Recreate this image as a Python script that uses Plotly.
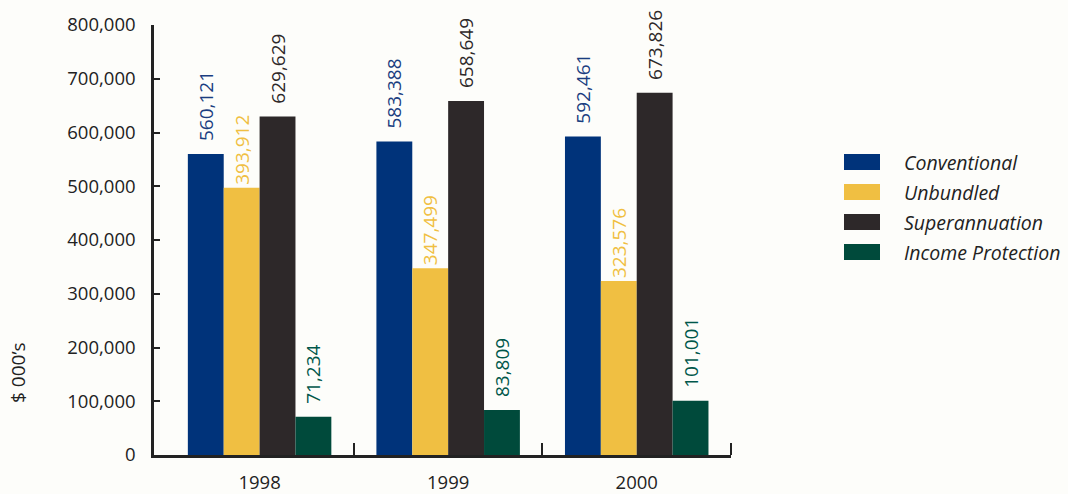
import plotly.graph_objects as go

years = [1998, 1999, 2000]
year_labels = ["1998", "1999", "2000"]
boundaries = [1998.5, 1999.5, 2000.5]
series = ["Conventional", "Unbundled", "Superannuation", "Income Protection"]
# bar heights as drawn in the chart
conventional = [560121, 583388, 592461]
unbundled = [497000, 347499, 323576]
superannuation = [629629, 658649, 673826]
income_protection = [71234, 83809, 101001]
# printed value labels
conventional_lbl = [560121, 583388, 592461]
unbundled_lbl = [393912, 347499, 323576]
superannuation_lbl = [629629, 658649, 673826]
income_protection_lbl = [71234, 83809, 101001]

y_ticks = [0, 100000, 200000, 300000, 400000, 500000, 600000, 700000, 800000]

bar_colors = ["#00337a", "#f0bf42", "#2d2829", "#004a3b"]
lbl_colors = ["#1a3d80", "#f0bf42", "#2d2829", "#00574a"]
pads = ["\u00a0\u00a0", "", "\u00a0\u00a0", "\u00a0\u00a0"]

FONT = "Open Sans"
BG = "#fdfdfa"
INK = "#222222"

fig = go.Figure()
vals = [conventional, unbundled, superannuation, income_protection]
lbls = [conventional_lbl, unbundled_lbl, superannuation_lbl, income_protection_lbl]
for name, v, l, bc, lc, p in zip(series, vals, lbls, bar_colors, lbl_colors, pads):
    fig.add_trace(go.Bar(
        name=name, x=years, y=v,
        marker=dict(color=bc, line=dict(width=0)),
        text=[p + f"{t:,}" for t in l],
        textposition="outside", textangle=-90, constraintext="none",
        cliponaxis=False,
        textfont=dict(family=FONT, size=19, color=lc),
        showlegend=False,
    ))

# manual legend
L, R, T, B = 154, 731, 25, 455
W, H = R - L, B - T
def px(x):
    return (x - L) / W
def py(y):
    return (B - y) / H
leg_y = [162, 192, 222, 252]
for name, c, yy in zip(series, bar_colors, leg_y):
    fig.add_shape(type="rect", xref="paper", yref="paper",
                  x0=px(844), x1=px(880), y0=py(yy + 8), y1=py(yy - 8),
                  fillcolor=c, line=dict(width=0))
    fig.add_annotation(xref="paper", yref="paper", x=px(902), y=py(yy),
                       xanchor="left", yanchor="middle", showarrow=False,
                       text=f"<i>{name}</i>",
                       font=dict(family=FONT, size=19.5, color=INK))

fig.add_annotation(xref="paper", yref="paper", x=px(18), y=py(373),
                   xanchor="center", yanchor="middle", showarrow=False,
                   textangle=-90, text="$ 000’s",
                   font=dict(family=FONT, size=19, color=INK))

fig.update_layout(
    width=1068, height=494,
    margin=dict(l=L, r=1068 - R, t=T, b=494 - B, pad=0, autoexpand=False),
    paper_bgcolor=BG, plot_bgcolor=BG,
    barmode="group", bargap=0.239, bargroupgap=0,
    font=dict(family=FONT, size=18, color=INK),
)
fig.update_xaxes(
    type="linear", range=[1997.44, 2000.5],
    tickmode="array", tickvals=years, ticktext=year_labels, ticks="",
    minor=dict(tickmode="array", tickvals=boundaries, ticks="inside",
               ticklen=12, tickcolor=INK, tickwidth=1.5, showgrid=False),
    showline=True, linecolor=INK, linewidth=2.5,
    showgrid=False, zeroline=False, ticklabelstandoff=9, automargin=False,
    tickfont=dict(family=FONT, size=18.5, color=INK),
)
fig.update_yaxes(
    range=[0, 800000], tickvals=y_ticks, tickformat=",",
    showline=True, linecolor=INK, linewidth=2.5,
    ticks="inside", ticklen=6, tickcolor=INK, tickwidth=1.5,
    showgrid=False, zeroline=False, ticklabelstandoff=12, automargin=False,
    tickfont=dict(family=FONT, size=18.5, color=INK),
)

fig.write_html("out.html")
